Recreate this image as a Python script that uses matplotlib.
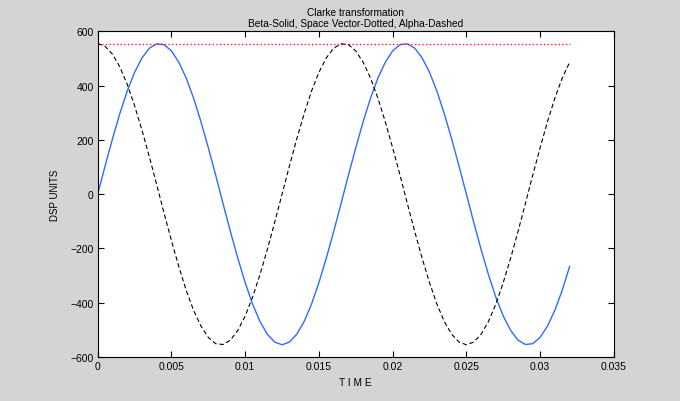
import numpy as np
import matplotlib
matplotlib.use('Agg')
import matplotlib.pyplot as plt
from matplotlib.lines import Line2D

# sample times (s), one every 0.5 ms
time = np.linspace(0, 0.032, 65)

alpha = [555, 545, 516, 469, 405, 326, 236, 138, 35, -70, -171, -267, -354,
         -428, -486, -528, -551, -554, -538, -502, -449, -380, -297, -204,
         -104, 0, 104, 204, 297, 380, 449, 502, 538, 554, 551, 528, 486, 428,
         354, 267, 171, 70, -35, -138, -236, -326, -405, -469, -516, -545,
         -555, -545, -516, -469, -405, -326, -236, -138, -35, 70, 171, 267,
         354, 428, 486]

beta = [0, 104, 204, 297, 380, 449, 502, 538, 554, 551, 528, 486, 428, 354,
        267, 171, 70, -35, -138, -236, -326, -405, -469, -516, -545, -555,
        -545, -516, -469, -405, -326, -236, -138, -35, 70, 171, 267, 354, 428,
        486, 528, 551, 554, 538, 502, 449, 380, 297, 204, 104, 0, -104, -204,
        -297, -380, -449, -502, -538, -554, -551, -528, -486, -428, -354, -267]

space_vector = [555] * 65

xticks = [0, 0.005, 0.01, 0.015, 0.02, 0.025, 0.03, 0.035]
xticklabels = ['0', '0.005', '0.01', '0.015', '0.02', '0.025', '0.03', '0.035']
yticks = [-600, -400, -200, 0, 200, 400, 600]

plt.rcParams['font.family'] = ['Liberation Sans', 'DejaVu Sans']
plt.rcParams['font.size'] = 7

fig = plt.figure(figsize=(6.8, 4.02), dpi=100, facecolor='#d4d4d4')
ax = fig.add_axes([0.1437, 0.1095, 0.759, 0.810])

ax.plot(time, beta, '-', color='#2f6bff', lw=1.0)
ax.plot(time, space_vector, ':', color='#ff2020', lw=1.0)
ax.plot(time, alpha, '--', color='black', lw=0.8, dashes=(4, 2.5))

ax.set_xlim(0, 0.035)
ax.set_ylim(-600, 600)
ax.set_xticks(xticks)
ax.set_xticklabels(xticklabels)
ax.set_yticks(yticks)
ax.tick_params(direction='in', top=True, right=True, length=4, width=0.8,
               pad=3, labelsize=7.5)
for s in ax.spines.values():
    s.set_linewidth(0.8)

ax.set_title('Clarke transformation\nBeta-Solid, Space Vector-Dotted, Alpha-Dashed',
             fontsize=7.3, pad=4, linespacing=1.1)
ax.set_ylabel('DSP UNITS', fontsize=7, labelpad=7)
ax.set_xlabel('T I M E', fontsize=7.3, labelpad=4)

# thin light edge along the top of the window
fig.add_artist(Line2D([0, 1], [0.999, 0.999], transform=fig.transFigure,
                      color='white', lw=1.2))

fig.savefig('out.png', dpi=100, facecolor=fig.get_facecolor())
